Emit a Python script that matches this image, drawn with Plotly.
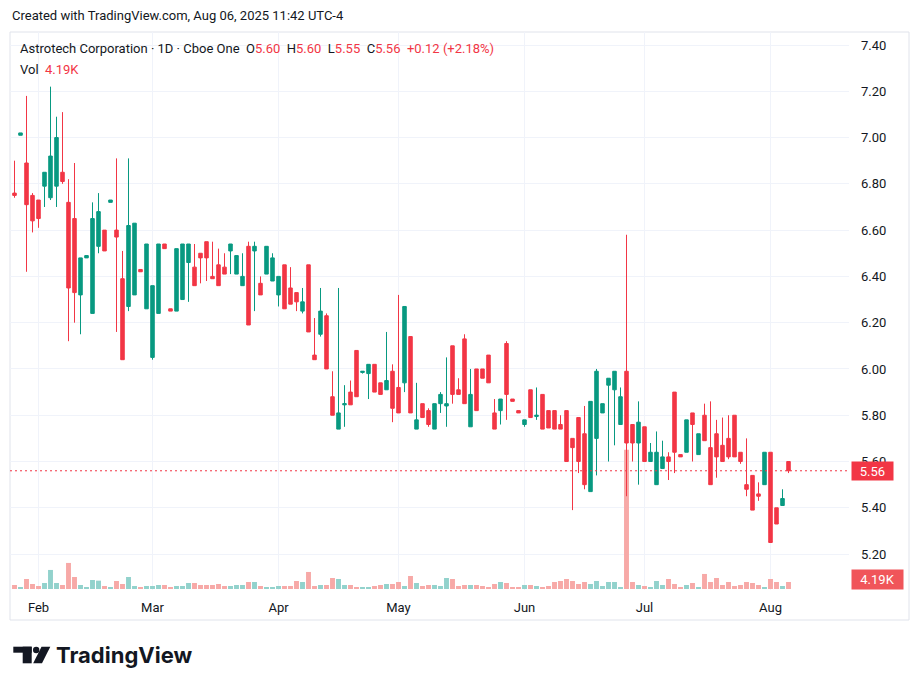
import plotly.graph_objects as go
import pandas as pd

# ---------------- data ----------------
holidays = ["2025-02-17", "2025-04-18", "2025-05-26", "2025-06-19", "2025-07-04"]
no_trade = ["2025-04-17", "2025-07-03"]  # sessions with no bar on the chart
dates = [d.strftime("%Y-%m-%d") for d in pd.bdate_range("2025-01-28", "2025-08-06")
         if d.strftime("%Y-%m-%d") not in holidays + no_trade]

opens = [6.76, 7.01, 6.89, 6.75, 6.73, 6.79, 6.74, 6.79, 6.85, 6.72,
         6.65, 6.32, 6.48, 6.24, 6.53, 6.60, 6.72, 6.60, 6.39, 6.27,
         6.32, 6.43, 6.26, 6.05, 6.24, 6.54, 6.26, 6.25, 6.30, 6.46,
         6.44, 6.50, 6.55, 6.40, 6.45, 6.44, 6.51, 6.41, 6.36, 6.53,
         6.51, 6.37, 6.41, 6.38, 6.32, 6.45, 6.35, 6.33, 6.25, 6.45,
         6.06, 6.15, 6.23, 5.88, 5.74, 5.845, 5.90, 6.08, 5.985, 5.98,
         6.02, 5.94, 5.91, 5.99, 5.92, 5.94, 6.14, 5.74, 5.85, 5.82,
         5.74, 5.85, 5.84, 6.10, 5.91, 6.13, 5.75, 6.00, 6.00, 6.06,
         5.81, 5.82, 6.11, 5.87, 5.82, 5.76, 5.91, 5.795, 5.89, 5.82,
         5.82, 5.76, 5.82, 5.70, 5.79, 5.72, 5.47, 5.70, 5.81, 5.93,
         5.91, 5.76, 5.99, 5.76, 5.68, 5.75, 5.60, 5.50, 5.57, 5.62,
         5.90, 5.63, 5.64, 5.81, 5.63, 5.80, 5.66, 5.72, 5.67, 5.70,
         5.80, 5.64, 5.50, 5.54, 5.46, 5.50, 5.64, 5.40, 5.41, 5.60]
highs = [6.90, 7.02, 7.18, 6.76, 6.73, 6.85, 7.22, 7.09, 7.11, 6.82,
         6.89, 6.48, 6.49, 6.72, 6.76, 6.60, 6.73, 6.91, 6.51, 6.91,
         6.63, 6.43, 6.54, 6.36, 6.54, 6.54, 6.26, 6.52, 6.54, 6.54,
         6.54, 6.50, 6.55, 6.55, 6.52, 6.50, 6.54, 6.49, 6.50, 6.55,
         6.55, 6.40, 6.53, 6.50, 6.40, 6.45, 6.44, 6.33, 6.35, 6.45,
         6.22, 6.35, 6.24, 5.99, 6.35, 5.93, 5.95, 6.08, 5.99, 6.02,
         6.02, 5.94, 6.16, 6.02, 6.32, 6.27, 6.14, 5.94, 5.85, 5.83,
         5.85, 5.90, 6.05, 6.10, 5.96, 6.15, 6.00, 6.00, 6.00, 6.06,
         5.87, 5.87, 6.12, 5.87, 5.82, 5.78, 5.91, 5.92, 5.89, 5.82,
         5.82, 5.80, 5.82, 5.70, 5.79, 5.84, 5.86, 6.00, 5.85, 5.96,
         5.99, 5.92, 6.58, 5.76, 5.86, 5.75, 5.68, 5.73, 5.69, 5.64,
         5.90, 5.63, 5.78, 5.81, 5.72, 5.85, 5.86, 5.78, 5.79, 5.80,
         5.80, 5.64, 5.70, 5.54, 5.51, 5.64, 5.64, 5.40, 5.48, 5.60]
lows = [6.74, 7.01, 6.42, 6.59, 6.61, 6.70, 6.73, 6.70, 6.80, 6.12,
        6.20, 6.15, 6.48, 6.24, 6.50, 6.51, 6.72, 6.16, 6.04, 6.25,
        6.32, 6.42, 6.26, 6.04, 6.24, 6.52, 6.25, 6.25, 6.30, 6.29,
        6.36, 6.37, 6.38, 6.39, 6.36, 6.41, 6.41, 6.41, 6.36, 6.19,
        6.25, 6.32, 6.41, 6.38, 6.27, 6.26, 6.28, 6.25, 6.24, 6.16,
        6.04, 6.14, 6.00, 5.80, 5.74, 5.75, 5.845, 5.88, 5.98, 5.87,
        5.90, 5.89, 5.91, 5.77, 5.81, 5.90, 5.81, 5.74, 5.79, 5.75,
        5.74, 5.81, 5.75, 5.85, 5.89, 5.85, 5.75, 5.82, 5.96, 5.94,
        5.74, 5.76, 5.78, 5.86, 5.81, 5.75, 5.79, 5.78, 5.74, 5.745,
        5.74, 5.74, 5.60, 5.39, 5.55, 5.48, 5.47, 5.54, 5.81, 5.60,
        5.67, 5.76, 5.45, 5.60, 5.50, 5.60, 5.60, 5.50, 5.57, 5.52,
        5.55, 5.62, 5.64, 5.60, 5.63, 5.69, 5.50, 5.53, 5.60, 5.61,
        5.62, 5.59, 5.45, 5.39, 5.43, 5.50, 5.25, 5.33, 5.41, 5.55]
closes = [6.75, 7.02, 6.71, 6.64, 6.65, 6.85, 6.92, 7.00, 6.81, 6.35,
          6.33, 6.48, 6.49, 6.65, 6.68, 6.51, 6.73, 6.57, 6.04, 6.62,
          6.63, 6.42, 6.54, 6.36, 6.54, 6.52, 6.25, 6.52, 6.54, 6.54,
          6.36, 6.48, 6.48, 6.39, 6.36, 6.41, 6.54, 6.49, 6.40, 6.19,
          6.53, 6.32, 6.53, 6.48, 6.40, 6.26, 6.28, 6.29, 6.29, 6.16,
          6.04, 6.25, 6.00, 5.80, 5.81, 5.85, 5.845, 5.88, 5.99, 6.02,
          5.90, 5.89, 5.95, 5.83, 5.81, 6.27, 5.81, 5.78, 5.79, 5.76,
          5.85, 5.89, 5.85, 5.89, 5.89, 5.85, 5.89, 5.82, 5.96, 5.94,
          5.74, 5.87, 5.89, 5.86, 5.81, 5.78, 5.79, 5.80, 5.74, 5.745,
          5.74, 5.74, 5.60, 5.66, 5.60, 5.50, 5.86, 5.99, 5.85, 5.96,
          5.99, 5.88, 5.68, 5.68, 5.77, 5.60, 5.64, 5.64, 5.62, 5.60,
          5.64, 5.62, 5.78, 5.76, 5.72, 5.69, 5.50, 5.62, 5.60, 5.62,
          5.62, 5.60, 5.48, 5.39, 5.45, 5.64, 5.25, 5.33, 5.44, 5.56]
volume_k = [2.4, 1.2, 6.0, 3.0, 1.8, 3.6, 11.4, 3.6, 2.4, 15.6,
            7.2, 2.4, 1.2, 5.4, 5.0, 1.8, 1.2, 4.8, 3.0, 7.2,
            1.8, 1.2, 1.8, 1.8, 2.4, 2.4, 1.2, 1.8, 1.8, 3.6,
            3.6, 2.4, 2.4, 2.4, 3.0, 1.8, 1.8, 2.4, 2.4, 4.2,
            4.2, 1.8, 1.2, 1.2, 1.8, 1.8, 1.8, 4.8, 4.2, 10.2,
            1.8, 2.4, 2.4, 6.6, 6.0, 2.4, 2.4, 1.2, 1.2, 1.2,
            1.8, 2.4, 3.0, 3.0, 4.2, 1.8, 7.8, 3.6, 1.8, 2.4,
            2.4, 1.8, 6.6, 6.0, 1.8, 2.4, 2.4, 2.4, 1.8, 1.2,
            3.0, 4.2, 3.6, 1.2, 1.2, 2.4, 2.4, 1.8, 1.2, 1.8,
            4.2, 4.8, 6.0, 4.8, 3.0, 4.2, 3.0, 4.8, 1.8, 4.2,
            4.2, 1.2, 83.4, 4.2, 2.4, 1.8, 1.2, 4.8, 2.4, 6.0,
            3.0, 1.2, 2.4, 3.6, 1.2, 9.0, 4.2, 6.6, 2.4, 4.2,
            1.8, 2.4, 4.2, 3.6, 2.4, 1.2, 6.0, 4.2, 1.8, 4.19]
price_ticks = [5.20, 5.40, 5.60, 5.80, 6.00, 6.20, 6.40, 6.60, 6.80, 7.00, 7.20, 7.40]
month_labels = ["Feb", "Mar", "Apr", "May", "Jun", "Jul", "Aug"]
last_price = 5.56
last_volume = "4.19K"

# ---------------- styling ----------------
GREEN = "#089981"
RED = "#f23645"
VGREEN = "#92d2cc"
VRED = "#f7a9a7"
TXT = "#131722"
GRID = "#f0f3fa"
FONT = "Roboto"

W, H = 920, 689
L, R, T, B = 10, 849, 32, 590  # plot area in pixels


def px(x):
    return (x - L) / (R - L)


def py(y):
    return (B - y) / (B - T)


# month tick positions = first bar of each month
month_starts = []
seen = set()
for d in dates:
    m = d[:7]
    if m not in seen:
        seen.add(m)
        month_starts.append(d)
month_starts = month_starts[1:]  # skip January

vol_colors = [VGREEN if c >= o else VRED for o, c in zip(opens, closes)]

fig = go.Figure()
fig.add_trace(go.Bar(x=dates, y=volume_k, marker=dict(color=vol_colors, line=dict(width=0)),
                     width=0.82, yaxis="y", hoverinfo="skip", showlegend=False))
fig.add_trace(go.Candlestick(
    x=dates, open=opens, high=highs, low=lows, close=closes, yaxis="y2",
    increasing=dict(line=dict(color=GREEN, width=1), fillcolor=GREEN),
    decreasing=dict(line=dict(color=RED, width=1), fillcolor=RED),
    whiskerwidth=0, showlegend=False, hoverinfo="skip"))

# y ranges: 7.40 at y=45 px, 231.4 px per 1.00
ppu = 231.4
ytop = 7.40 + (45 - T) / ppu
ybot = 7.40 - (B - 45) / ppu
vol_px = 4.19 / 7.0
fig.update_layout(
    width=W, height=H,
    margin=dict(l=L, r=W - R, t=T, b=H - B),
    paper_bgcolor="white", plot_bgcolor="white",
    font=dict(family=FONT, size=13, color=TXT),
    boxgap=0.16,
    bargap=0.1,
    xaxis=dict(type="category", range=[(L - 14.5) / 6.0, (R - 14.5) / 6.0],
               tickvals=month_starts, ticktext=month_labels,
               showgrid=True, gridcolor=GRID, gridwidth=1, ticks="",
               showline=False, zeroline=False, ticklabelstandoff=8,
               tickfont=dict(family=FONT, size=13, color=TXT),
               rangeslider=dict(visible=False), fixedrange=True),
    yaxis=dict(range=[-vol_px, (B - T - 1) * vol_px], visible=False, showgrid=False,
               fixedrange=True),
    yaxis2=dict(overlaying="y", side="right", range=[ybot, ytop],
                tickvals=price_ticks, ticktext=[f"{v:.2f}" for v in price_ticks],
                showgrid=True, gridcolor=GRID, gridwidth=1, zeroline=False,
                showline=False, ticks="", ticklabelstandoff=11,
                tickfont=dict(family=FONT, size=13, color=TXT), fixedrange=True),
)

shapes = []
# outer frame
shapes.append(dict(type="rect", xref="paper", yref="paper", x0=px(10), x1=px(909),
                   y0=py(620), y1=py(32), line=dict(color="#e0e3eb", width=1),
                   fillcolor="rgba(0,0,0,0)", layer="below"))
# last price dotted line
shapes.append(dict(type="line", xref="paper", yref="y2", x0=0, x1=1, y0=last_price, y1=last_price,
                   line=dict(color=RED, width=1, dash="2px,3px"), layer="above"))
# TradingView logo glyph
shapes.append(dict(type="rect", xref="paper", yref="paper", x0=px(13.3), x1=px(31.7),
                   y0=py(652.7), y1=py(646.7), fillcolor="#131722", line=dict(width=0)))
shapes.append(dict(type="rect", xref="paper", yref="paper", x0=px(22.7), x1=px(31.7),
                   y0=py(663.3), y1=py(646.7), fillcolor="#131722", line=dict(width=0)))
shapes.append(dict(type="circle", xref="paper", yref="paper", x0=px(33.0), x1=px(39.4),
                   y0=py(653.2), y1=py(646.8), fillcolor="#131722", line=dict(width=0)))
pts = [(41.5, 646.7), (50.3, 646.7), (42.0, 663.3), (33.2, 663.3)]
path = "M " + " L ".join(f"{px(a):.5f},{py(b):.5f}" for a, b in pts) + " Z"
shapes.append(dict(type="path", xref="paper", yref="paper", path=path,
                   fillcolor="#131722", line=dict(width=0)))

nb = "\u00a0"
red = lambda s: f'<span style="color:{RED}">{s}</span>'
legend = ("Astrotech Corporation · 1D · Cboe One" + nb * 2 + "O" + red("5.60") + nb * 2 + "H" + red("5.60")
          + nb * 2 + "L" + red("5.55") + nb * 2 + "C" + red("5.56") + nb * 2 + red("+0.12 (+2.18%)"))

annotations = [
    dict(text="Created with TradingView.com, Aug 06, 2025 11:42 UTC-4", xref="paper", yref="paper",
         x=px(10), y=py(16), xanchor="left", yanchor="middle", showarrow=False,
         font=dict(family=FONT, size=13, color=TXT)),
    dict(text=legend, xref="paper", yref="paper", x=px(18), y=py(48), xanchor="left",
         yanchor="middle", showarrow=False, font=dict(family=FONT, size=13, color=TXT)),
    dict(text="Vol" + nb * 2 + red(last_volume), xref="paper", yref="paper", x=px(18), y=py(69),
         xanchor="left", yanchor="middle", showarrow=False, font=dict(family=FONT, size=13, color=TXT)),
    dict(text=f"{last_price:.2f}", xref="paper", yref="y2", x=px(851), y=last_price,
         xanchor="left", yanchor="middle", showarrow=False, bgcolor=RED, borderpad=0,
         width=41, height=18, font=dict(family=FONT, size=13, color="white")),
    dict(text=last_volume, xref="paper", yref="paper", x=px(851), y=py(579.5),
         xanchor="left", yanchor="middle", showarrow=False, bgcolor="#f0555a", borderpad=0,
         width=51, height=19, font=dict(family=FONT, size=13, color="white")),
    dict(text="<b>TradingView</b>", xref="paper", yref="paper", x=px(54), y=py(655),
         xanchor="left", yanchor="middle", showarrow=False,
         font=dict(family="Inter", size=22, color="#131722")),
]
fig.update_layout(shapes=shapes, annotations=annotations)

fig.write_html("out.html", config={"displayModeBar": False},
               post_script="document.body.style.margin='0';document.body.style.padding='0';")
